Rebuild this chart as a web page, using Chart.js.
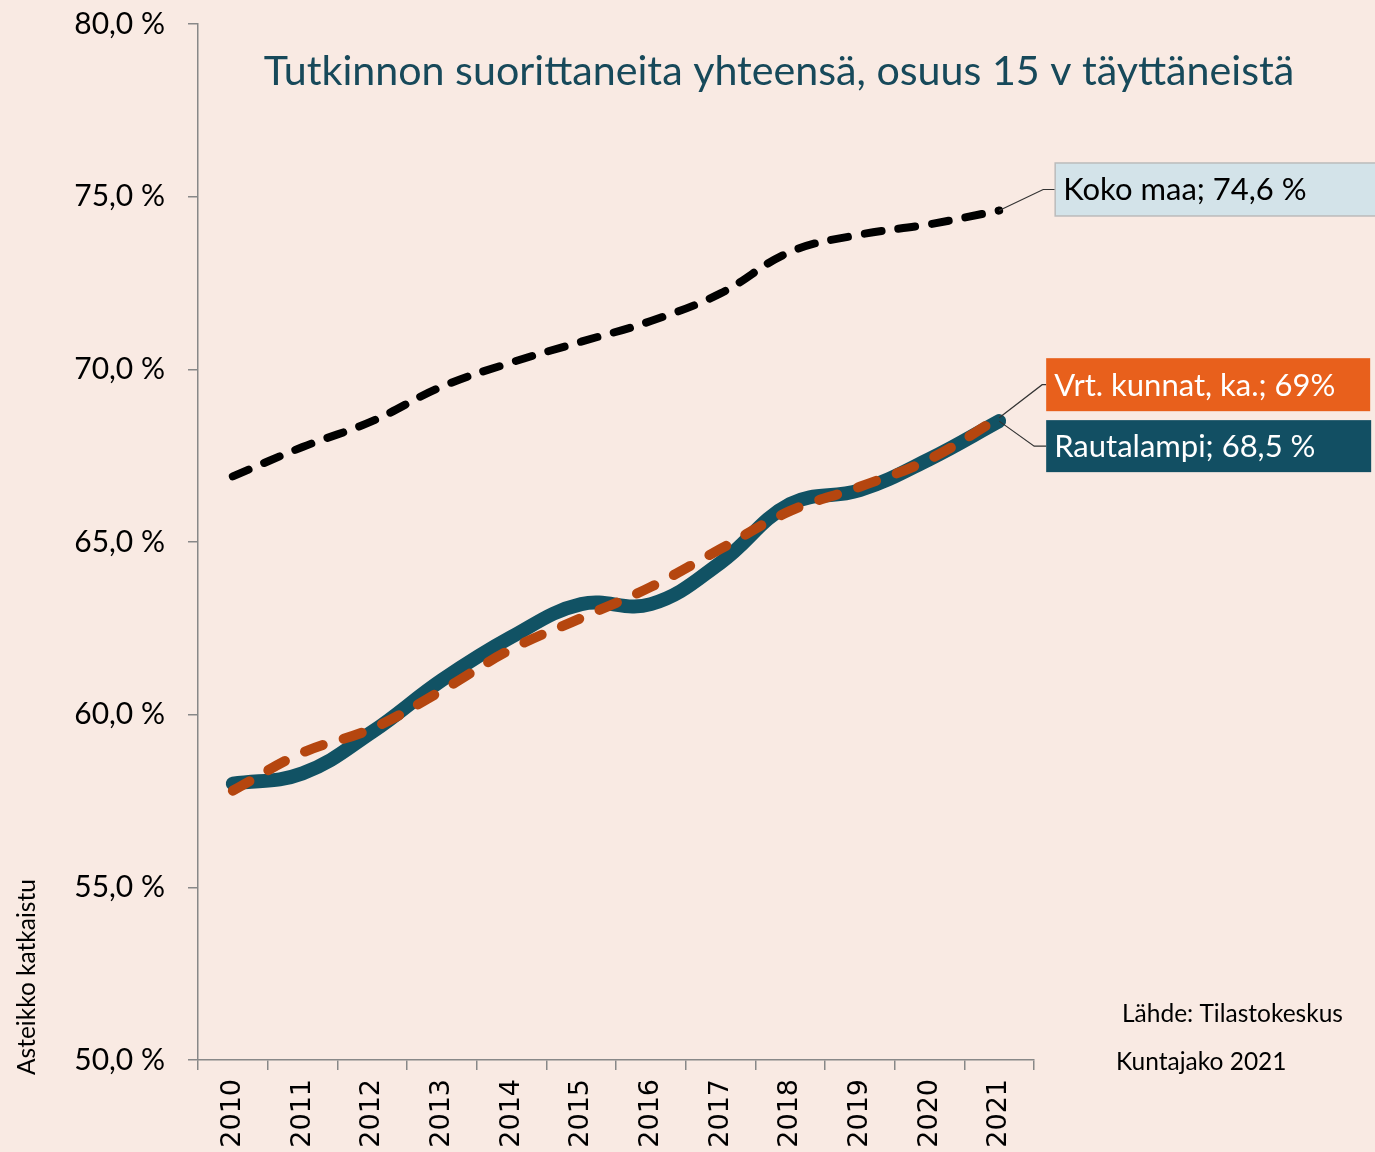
<!DOCTYPE html>
<html><head><meta charset="utf-8">
<script src="https://cdn.jsdelivr.net/npm/chart.js@4/dist/chart.umd.min.js"></script>
<style>html,body{margin:0;padding:0;background:#F9EAE3;}#wrap{width:1375px;height:1152px;}</style>
</head><body><div id="wrap"><canvas id="c" width="1375" height="1152"></canvas></div>
<script>
const years = ['2010','2011','2012','2013','2014','2015','2016','2017','2018','2019','2020','2021'];
const kokoMaa = [66.9, 67.75, 68.5, 69.5, 70.2, 70.8, 71.4, 72.2, 73.4, 73.9, 74.2, 74.6];
const rautalampi = [58.0, 58.3, 59.5, 61.0, 62.25, 63.2, 63.2, 64.4, 66.1, 66.5, 67.4, 68.5];
const vrtKunnat = [57.8, 58.9, 59.6, 60.7, 61.9, 62.8, 63.7, 64.8, 65.9, 66.6, 67.4, 68.6];
const seriesNames = ['Koko maa', 'Rautalampi', 'Vrt. kunnat, ka.'];
const endLabels = ['Koko maa; 74,6 %', 'Rautalampi; 68,5 %', 'Vrt. kunnat, ka.; 69%'];
const yTicks = [50, 55, 60, 65, 70, 75, 80];
const titleText = 'Tutkinnon suorittaneita yhteensä, osuus 15 v täyttäneistä';

const BG = '#F9EAE3';
const FONT = 'Lato, "Open Sans", sans-serif';

const bgPlugin = {
  id: 'bg',
  beforeDraw(chart) {
    const ctx = chart.ctx;
    ctx.save(); ctx.fillStyle = BG; ctx.fillRect(0, 0, chart.width, chart.height); ctx.restore();
  }
};

const annot = {
  id: 'annot',
  afterDatasetsDraw(chart) {
    const ctx = chart.ctx;
    ctx.save();
    // title
    ctx.fillStyle = '#17495A';
    ctx.font = '41.2px ' + FONT;
    ctx.textAlign = 'center'; ctx.textBaseline = 'middle';
    ctx.fillText(titleText, 779, 72);

    function lastPt(i) {
      const meta = chart.getDatasetMeta(i);
      const el = meta.data[meta.data.length - 1];
      return {x: el.x, y: el.y};
    }
    function box(x, cy, w, h, fill, stroke, txt, col) {
      ctx.fillStyle = fill;
      ctx.fillRect(x, cy - h / 2, w, h);
      if (stroke) { ctx.strokeStyle = stroke; ctx.lineWidth = 1.5; ctx.strokeRect(x, cy - h / 2, w, h); }
      ctx.fillStyle = col;
      ctx.font = '31px ' + FONT;
      ctx.textAlign = 'left'; ctx.textBaseline = 'middle';
      ctx.fillText(txt, x + 8, cy + 1);
    }
    ctx.strokeStyle = '#333'; ctx.lineWidth = 1.2;
    // Koko maa (dataset index 2)
    const pk = lastPt(2);
    const kx = pk.x + 56, ky = pk.y - 21;
    ctx.beginPath(); ctx.moveTo(pk.x, pk.y); ctx.lineTo(kx - 12, ky); ctx.lineTo(kx, ky); ctx.stroke();
    box(kx, ky, 330, 53, '#D3E3E9', '#BBBBBB', endLabels[0], '#000');
    // Vrt kunnat (index 0)
    const pv = lastPt(0);
    const vx = pv.x + 47, vy = pv.y - 33;
    ctx.strokeStyle = '#333'; ctx.lineWidth = 1.2;
    ctx.beginPath(); ctx.moveTo(pv.x, pv.y); ctx.lineTo(vx - 4, vy); ctx.lineTo(vx, vy); ctx.stroke();
    box(vx, vy, 324, 53, '#E8601C', null, endLabels[2], '#FFFFFF');
    // Rautalampi (index 1)
    const pr = lastPt(1);
    const rx = pr.x + 47, ry = pr.y + 25;
    ctx.strokeStyle = '#333'; ctx.lineWidth = 1.2;
    ctx.beginPath(); ctx.moveTo(pr.x, pr.y); ctx.lineTo(rx - 12, ry); ctx.lineTo(rx, ry); ctx.stroke();
    box(rx, ry, 325, 52, '#124F63', null, endLabels[1], '#FFFFFF');

    // notes
    ctx.fillStyle = '#000';
    ctx.font = '24.5px ' + FONT;
    ctx.textAlign = 'left'; ctx.textBaseline = 'middle';
    ctx.fillText('Lähde: Tilastokeskus', 1122, 1014);
    ctx.fillText('Kuntajako 2021', 1116, 1062);
    ctx.save();
    ctx.translate(27, 1075);
    ctx.rotate(-Math.PI / 2);
    ctx.textAlign = 'left';
    ctx.fillText('Asteikko katkaistu', 0, 0);
    ctx.restore();
    ctx.restore();
  }
};

new Chart(document.getElementById('c'), {
  type: 'line',
  data: {
    labels: years,
    datasets: [
      { label: seriesNames[2], data: vrtKunnat, borderColor: '#B5460F', borderWidth: 10,
        borderDash: [19, 22], borderCapStyle: 'round', pointRadius: 0, tension: 0.4, order: 0, fill: false },
      { label: seriesNames[1], data: rautalampi, borderColor: '#115264', borderWidth: 14,
        borderCapStyle: 'round', pointRadius: 0, tension: 0.4, order: 1, fill: false },
      { label: seriesNames[0], data: kokoMaa, borderColor: '#000000', borderWidth: 8,
        borderDash: [17, 17], borderCapStyle: 'round', pointRadius: 0, tension: 0.4, order: 2, fill: false }
    ]
  },
  options: {
    responsive: false,
    animation: false,
    layout: { padding: { top: 24, right: 341, left: 0, bottom: 0 } },
    plugins: { legend: { display: false }, tooltip: { enabled: false }, title: { display: false } },
    scales: {
      x: {
        offset: true,
        grid: { offset: true, drawOnChartArea: false, drawTicks: true, tickLength: 10, color: '#888888', lineWidth: 1.5 },
        border: { display: true, color: '#888888', width: 1.5 },
        ticks: { minRotation: 90, maxRotation: 90, padding: 9, color: '#000', font: { family: '"DejaVu Sans"', size: 27 } },
        afterFit(s) { s.height = 92; }
      },
      y: {
        min: 50, max: 80,
        afterBuildTicks(s) { s.ticks = yTicks.map(v => ({ value: v })); },
        grid: { drawOnChartArea: false, drawTicks: true, tickLength: 10, color: '#888888', lineWidth: 1.5 },
        border: { display: true, color: '#888888', width: 1.5 },
        ticks: { padding: 23, color: '#000', font: { family: FONT, size: 30 },
          callback: v => v.toFixed(1).replace('.', ',') + ' %' },
        afterFit(s) { s.width = 198; s.paddingTop = 0; s.paddingBottom = 0; }
      }
    }
  },
  plugins: [bgPlugin, annot]
});
</script></body></html>
